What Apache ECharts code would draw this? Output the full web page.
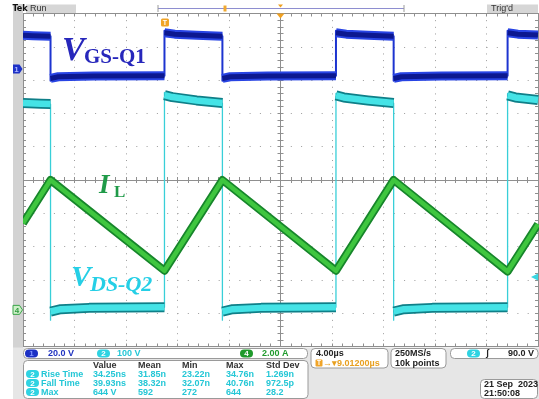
<!DOCTYPE html>
<html>
<head>
<meta charset="utf-8">
<script src="https://cdn.jsdelivr.net/npm/echarts@6/dist/echarts.min.js"></script>
<style>
html,body{margin:0;padding:0;background:#fff;}
#scope{width:539px;height:399px;}
</style>
</head>
<body>
<div id="scope"></div>
<script>
// ---- Horizontal settings ----
const timePerDiv = 4;        // µs / div
const horizDelay = 9.012;    // µs from trigger to screen centre

// ---- Vertical settings: ch1, ch2, ch4 ----
const chScale = [20, 100, 2];          // V/div, V/div, A/div
const chPos = [3.33, -3.81, -3.9];     // ground position, divisions
const trigLevel = 90;                  // V on ch2, rising edge

// ---- V_GS-Q1 (ch1), time in µs, value in V ----
// repeated instants are switching edges (first point: overshoot of the edge)
const vgsT = [-10.988, -10.2, -8.85,  -8.85, -8.85, -8.25, -5.5, 0,
              0, 0, 0.8, 2.5, 4.5,
              4.5, 4.5, 5.1, 8.0, 13.32,
              13.32, 13.32, 14.12, 15.8, 17.8,
              17.8, 17.8, 18.4, 21.5, 26.65,
              26.65, 26.65, 27.45, 29.012];
const vgsV = [20.3, 20.1, 19.8,  -7.0, -5.6, -4.6, -4.2, -4.0,
              23.0, 21.8, 21.0, 20.4, 19.8,
              -7.0, -5.6, -4.6, -4.2, -4.0,
              23.0, 21.8, 21.0, 20.4, 19.8,
              -7.0, -5.6, -4.6, -4.2, -4.0,
              23.0, 21.8, 21.0, 20.5];

// ---- V_DS-Q2 (ch2), time in µs, value in V ----
const vdsT = [-10.988, -9.6, -8.85,  -8.85, -8.85, -8.05, -5.85, 0,
              0, 0, 0.6, 2.5, 4.5,
              4.5, 4.5, 5.3, 7.5, 13.32,
              13.32, 13.32, 13.92, 15.8, 17.8,
              17.8, 17.8, 18.6, 20.8, 26.65,
              26.65, 26.65, 27.25, 29.012];
const vdsV = [612, 610, 609,  -40, -14, -7, -3, -1,
              644, 636, 630, 620, 612,
              -40, -14, -7, -3, -1,
              641, 635, 629, 620, 612,
              -40, -14, -7, -3, -1,
              641, 635, 629, 621];

// ---- I_L (ch4), time in µs, value in A ----
const ilT = [-10.988, -8.85, 0, 4.5, 13.32, 17.8, 26.65, 29.012];
const ilA = [5.2, 7.8, 2.35, 7.8, 2.35, 7.8, 2.3, 5.15];

// ---- Measurement readout ----
const measNames = ['Rise Time', 'Fall Time', 'Max'];
const measValue = ['34.25ns', '39.93ns', '644 V'];
const measMean = ['31.85n', '38.32n', '592'];
const measMin = ['23.22n', '32.07n', '272'];
const measMax = ['34.76n', '40.76n', '644'];
const measStd = ['1.269n', '972.5p', '28.2'];
const measHeads = ['Value', 'Mean', 'Min', 'Max', 'Std Dev'];

// ---- Channel / setup readouts ----
const chLabels = ['20.0 V', '100 V', '2.00 A'];
const hLabel = '4.00µs';
const delayLabel = '9.01200µs';
const acqLabels = ['250MS/s', '10k points'];
const trigLabel = '90.0 V';
const dateLabels = ['21 Sep  2023', '21:50:08'];

const chart = echarts.init(document.getElementById('scope'), null, {renderer: 'canvas'});

function pairs(ts, vs) {
  return ts.map((t, i) => [t, vs[i]]);
}
// plateau pieces only: break the line at each switching edge
function plateaus(ts, vs) {
  const out = [];
  for (let i = 0; i < ts.length; i++) {
    out.push([ts[i], vs[i]]);
    if (i < ts.length - 1 && ts[i] === ts[i + 1]) out.push([ts[i], '-']);
  }
  return out;
}

const GRAT = '#8f8f8f';
const divBase = {
  type: 'value', min: -5, max: 5, interval: 1,
  axisLabel: {show: false}, splitLine: {show: false}
};
function edgeAxis(position, inside, onZero, split, dash) {
  return Object.assign({}, divBase, {
    position: position,
    axisLine: {show: true, onZero: onZero, onZeroAxisIndex: 0, lineStyle: {color: GRAT, width: 1}},
    axisTick: {show: true, inside: inside, length: 3, lineStyle: {color: GRAT}},
    minorTick: {show: true, splitNumber: 5, length: 3, lineStyle: {color: GRAT}},
    splitLine: {show: split, lineStyle: {color: '#9c9c9c', width: 1, type: dash}}
  });
}

function chAxis(k) {
  return {type: 'value', show: false,
          min: (-5 - chPos[k]) * chScale[k], max: (5 - chPos[k]) * chScale[k]};
}

function trace(data, yi, color, width, z) {
  return {
    type: 'line', data: data, xAxisIndex: 4, yAxisIndex: yi,
    symbol: 'none', silent: true, animation: false, connectNulls: false, z: z,
    lineStyle: {color: color, width: width, cap: 'butt', join: 'round'}
  };
}

chart.setOption({
  animation: false,
  backgroundColor: '#ffffff',
  grid: {left: 23, top: 13.5, width: 515, height: 333, containLabel: false},
  xAxis: [
    edgeAxis('bottom', true, false, true, [1, 5.66]),
    edgeAxis('top', true, false, false),
    edgeAxis('bottom', true, true, false),
    edgeAxis('bottom', false, true, false),
    {type: 'value', show: false,
     min: horizDelay - 5 * timePerDiv, max: horizDelay + 5 * timePerDiv}
  ],
  yAxis: [
    edgeAxis('left', true, false, true, [1, 9.3]),
    edgeAxis('right', true, false, false),
    edgeAxis('left', true, true, false),
    edgeAxis('left', false, true, false),
    chAxis(0), chAxis(1), chAxis(2)
  ],
  series: [
    // ch2 : V_DS-Q2
    trace(pairs(vdsT, vdsV), 5, '#38cfd8', 1.3, 3),
    trace(plateaus(vdsT, vdsV), 5, '#0f7f88', 10, 4),
    trace(plateaus(vdsT, vdsV), 5, '#45e3e6', 6.5, 5),
    // ch1 : V_GS-Q1
    trace(pairs(vgsT, vgsV), 4, '#1d34d0', 2, 6),
    trace(plateaus(vgsT, vgsV), 4, '#2844e4', 9, 7),
    trace(plateaus(vgsT, vgsV), 4, '#0c1890', 5, 8),
    // ch4 : I_L
    trace(pairs(ilT, ilA), 6, '#17862b', 8, 9),
    trace(pairs(ilT, ilA), 6, '#3fc63f', 4.5, 10)
  ]
});

// ---------- screen decorations ----------
const SANS = "'Liberation Sans Narrow','Liberation Sans',sans-serif";
const SERIF = "'Liberation Serif','Times New Roman',serif";
function T(x, y, s, fill, o) {
  o = o || {};
  return {type: 'text', x: x, y: y, silent: true, z: 100,
    style: {text: s, fill: fill,
      font: (o.st || '') + ' ' + (o.w || 'bold') + ' ' + (o.size || 9) + 'px ' + (o.f || SANS),
      align: o.align || 'left', verticalAlign: 'middle'}};
}
function R(x, y, w, h, fill, stroke, r, z) {
  return {type: 'rect', silent: true, z: z || 90,
    shape: {x: x, y: y, width: w, height: h, r: r || 0},
    style: {fill: fill, stroke: stroke || null, lineWidth: 1}};
}
function P(pts, fill, stroke, z) {
  return {type: 'polygon', silent: true, z: z || 95,
    shape: {points: pts}, style: {fill: fill, stroke: stroke || null, lineWidth: 1}};
}
function badge(x, y, s, fill, tc) {
  return [R(x, y - 4, 13, 8, fill, null, 4, 95),
          T(x + 6.5, y + 0.5, s, tc, {align: 'center', size: 8})];
}

const gx = v => chart.convertToPixel({xAxisIndex: 4}, v);
const gy = (k, v) => chart.convertToPixel({yAxisIndex: 4 + k}, v);

const xTrig = gx(0);
const xCentre = gx(horizDelay);
const yGnd1 = gy(0, 0);
const yGnd4 = gy(2, 0);
const yTrig = gy(1, trigLevel);

const CYAN = '#24c7d6';
const g = [];

// top status bar
g.push(R(13, 4, 10, 395, '#d3d3d3', null, 0, 80));
g.push(R(26, 4.5, 50, 8.5, '#d6d6d6', null, 0, 85));
g.push(T(12.5, 8.8, 'Tek', '#111', {size: 9, f: "'DejaVu Sans Condensed','Liberation Sans Narrow',sans-serif"}));
g.push(T(30, 9, 'Run', '#333', {w: 'normal'}));
g.push({type: 'line', silent: true, z: 90, shape: {x1: 158, y1: 8.5, x2: 404, y2: 8.5}, style: {stroke: '#8e8ed0', lineWidth: 1}});
g.push({type: 'line', silent: true, z: 90, shape: {x1: 158, y1: 5, x2: 158, y2: 12}, style: {stroke: '#9a9a9a', lineWidth: 1}});
g.push({type: 'line', silent: true, z: 90, shape: {x1: 404, y1: 5, x2: 404, y2: 12}, style: {stroke: '#9a9a9a', lineWidth: 1}});
g.push(R(223.5, 5.5, 3, 6, '#f0a830', null, 0, 95));
g.push(P([[xCentre - 2.5, 4.5], [xCentre + 2.5, 4.5], [xCentre, 7.5]], '#f0a020'));
g.push(R(487, 4.5, 51, 8.5, '#d6d6d6', null, 0, 85));
g.push(T(491, 9, "Trig'd", '#333', {w: 'normal'}));

// trigger and expansion markers
g.push(P([[xCentre - 4, 13.5], [xCentre + 4, 13.5], [xCentre, 18.5]], '#f0a020'));
g.push(R(xTrig - 3.5, 18.5, 8, 8, '#f0a428', null, 1.5, 95));
g.push(T(xTrig + 0.5, 22.8, 'T', '#ffffff', {align: 'center', size: 7}));
g.push(P([[538, yTrig - 3.5], [531, yTrig], [538, yTrig + 3.5]], '#3ad7e2'));

// channel ground markers
g.push(P([[13, yGnd1 - 4.5], [19.5, yGnd1 - 4.5], [22.5, yGnd1], [19.5, yGnd1 + 4.5], [13, yGnd1 + 4.5]], '#1d31c6'));
g.push(T(16.5, yGnd1 + 0.5, '1', '#aab6ff', {align: 'center', size: 8}));
g.push(P([[13, yGnd4 - 4.5], [19.5, yGnd4 - 4.5], [22.5, yGnd4], [19.5, yGnd4 + 4.5], [13, yGnd4 + 4.5]], '#cdefc8', '#3aa548'));
g.push(T(17, yGnd4 + 0.5, '4', '#2f9a3f', {align: 'center', size: 8}));

// trace annotations
g.push(T(62, 51.5, 'V', '#2727bb', {f: SERIF, st: 'italic', size: 34}));
g.push(T(84, 58, 'GS-Q1', '#2727bb', {f: SERIF, size: 21}));
g.push(T(99, 186.5, 'I', '#1f9a48', {f: SERIF, st: 'italic', size: 27}));
g.push(T(114, 192.5, 'L', '#1f9a48', {f: SERIF, size: 17}));
g.push(T(71, 278, 'V', '#25cfe6', {f: SERIF, st: 'italic', size: 30}));
g.push(T(90, 285.5, 'DS-Q2', '#25cfe6', {f: SERIF, st: 'italic', size: 22}));

// bottom readout panel
g.push(R(13, 347.5, 526, 52, '#e6e6e6', null, 0, 80));
g.push(R(23.5, 348.5, 284, 10, '#ffffff', '#9a9a9a', 4));
badge(25, 353.5, '1', '#1c30c4', '#7f93ff').forEach(e => g.push(e));
g.push(T(48, 354, chLabels[0], '#2033c0'));
badge(97, 353.5, '2', '#2fd3e2', '#ffffff').forEach(e => g.push(e));
g.push(T(117, 354, chLabels[1], CYAN));
badge(240, 353.5, '4', '#1f9a2c', '#ffffff').forEach(e => g.push(e));
g.push(T(262, 354, chLabels[2], '#1f9a2c'));

g.push(R(311, 348.5, 77, 19.5, '#ffffff', '#9a9a9a', 4));
g.push(T(316, 353.5, hLabel, '#222'));
g.push(R(315.5, 359.5, 7, 7, '#f0a428', null, 1, 95));
g.push(T(319, 363.3, 'T', '#ffffff', {align: 'center', size: 6.5}));
g.push(T(323, 363.3, '→▾' + delayLabel, '#e8a020'));

g.push(R(391, 348.5, 55, 19.5, '#ffffff', '#9a9a9a', 4));
g.push(T(395, 353.5, acqLabels[0], '#222'));
g.push(T(395, 363.3, acqLabels[1], '#222'));

g.push(R(450.5, 348.5, 87.5, 10, '#ffffff', '#9a9a9a', 4));
badge(467, 353.5, '2', '#2fd3e2', '#ffffff').forEach(e => g.push(e));
g.push(T(486, 354, 'ʃ', '#222', {size: 9}));
g.push(T(534, 354, trigLabel, '#222', {align: 'right'}));

g.push(R(23.5, 360.5, 284.5, 38, '#ffffff', '#9a9a9a', 4));
const colX = [93, 138, 182, 226, 266];
measHeads.forEach((h, i) => g.push(T(colX[i], 365.5, h, '#333')));
const rowY = [374.5, 383.5, 392.5];
measNames.forEach((n, r) => {
  badge(26, rowY[r] - 0.5, '2', '#2fd3e2', '#ffffff').forEach(e => g.push(e));
  g.push(T(41, rowY[r], n, CYAN));
  [measValue, measMean, measMin, measMax, measStd].forEach((col, c) =>
    g.push(T(colX[c], rowY[r], col[r], CYAN)));
});

g.push(R(480.5, 379.5, 57, 19, '#ffffff', '#9a9a9a', 4));
g.push(T(484, 384.5, dateLabels[0], '#222'));
g.push(T(484, 393.5, dateLabels[1], '#222'));

chart.setOption({graphic: {elements: g}});
</script>
</body>
</html>
